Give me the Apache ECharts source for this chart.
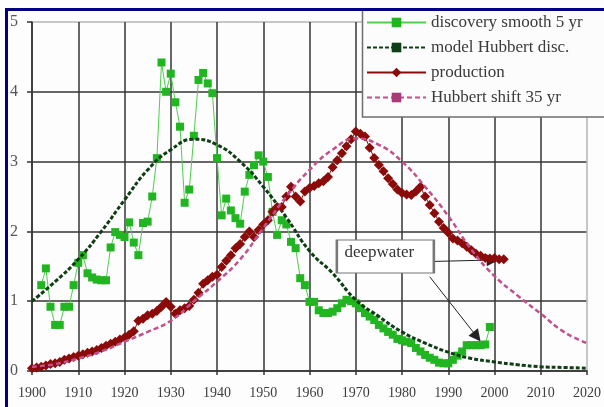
<!DOCTYPE html>
<html><head><meta charset="utf-8">
<script src="https://cdn.jsdelivr.net/npm/echarts@6/dist/echarts.min.js"></script>
<style>html,body{margin:0;padding:0;background:#fff}#c{width:604px;height:407px}</style>
</head><body><div id="c"></div>
<script>
// ---- data ----
const discoveryStartYear = 1902;
const discovery = [1.23,1.47,0.92,0.66,0.66,0.92,0.92,1.23,1.55,1.66,
  1.40,1.34,1.31,1.30,1.30,1.77,1.99,1.95,1.92,2.13,
  1.84,1.66,2.12,2.14,2.50,3.05,4.42,4.00,4.26,3.85,
  3.50,2.41,2.60,3.37,4.17,4.27,4.12,3.98,3.05,2.23,
  2.47,2.30,2.19,2.11,2.57,2.81,2.95,3.09,3.00,2.78,
  2.28,1.95,2.16,2.10,1.85,1.76,1.33,1.23,0.99,0.99,
  0.87,0.83,0.83,0.85,0.90,0.97,1.02,1.00,0.97,0.90,
  0.83,0.78,0.73,0.66,0.61,0.56,0.52,0.46,0.44,0.42,
  0.40,0.33,0.28,0.23,0.19,0.16,0.12,0.11,0.11,0.16,
  0.22,0.28,0.37,0.37,0.37,0.37,0.38,0.63];
const productionStartYear = 1900;
const production = [0.04,0.05,0.06,0.08,0.10,0.11,0.13,0.16,0.18,0.20,
  0.22,0.24,0.26,0.28,0.30,0.33,0.36,0.39,0.42,0.45,
  0.48,0.52,0.57,0.72,0.75,0.80,0.82,0.86,0.92,0.99,
  0.92,0.82,0.87,0.90,0.93,1.02,1.12,1.25,1.30,1.35,
  1.38,1.49,1.58,1.66,1.76,1.82,1.92,2.00,1.92,2.02,
  2.10,2.16,2.28,2.35,2.35,2.50,2.64,2.50,2.43,2.57,
  2.62,2.65,2.69,2.72,2.78,2.92,3.02,3.12,3.22,3.32,
  3.43,3.40,3.36,3.20,3.05,2.95,2.86,2.76,2.68,2.60,
  2.55,2.53,2.52,2.57,2.64,2.50,2.38,2.26,2.14,2.05,
  1.98,1.90,1.87,1.83,1.78,1.73,1.68,1.65,1.62,1.61,
  1.62,1.60,1.60];
const modelYears = [1900,1905,1910,1915,1920,1925,1930,1935,1940,1945,1950,1955,1960,1965,1970,1975,1980,1985,1990,1995,2000,2005,2010,2015,2020];
const modelHubbert = [1.00,1.28,1.60,2.00,2.45,2.88,3.17,3.32,3.24,3.00,2.64,2.20,1.72,1.40,1.02,0.78,0.56,0.40,0.27,0.18,0.13,0.09,0.06,0.05,0.04];
const shiftYears = [1900,1905,1910,1915,1920,1925,1930,1935,1940,1945,1950,1955,1960,1965,1970,1975,1980,1985,1990,1995,2000,2005,2010,2015,2020];
const hubbertShift = [0.06,0.10,0.18,0.28,0.42,0.56,0.72,1.00,1.28,1.60,2.05,2.50,2.88,3.17,3.33,3.24,3.00,2.64,2.22,1.74,1.36,1.08,0.82,0.56,0.40];
const xMin = 1900, xMax = 2020, xStep = 10;
const yMin = 0, yMax = 5, yStep = 1;
// annotation anchors (data space)
const noteLabel = 'deepwater';
const noteCenter = [1976.4, 1.64];
const arrowProduction = [[1986.9, 1.57], [1999.6, 1.59]];
const arrowDiscovery = [[1986.0, 1.35], [1996.2, 0.49]];

const pairs = (start, vals) => vals.map((v, i) => [start + i, v]);
const zip = (xs, vs) => xs.map((x, i) => [x, vs[i]]);

const serif = '"Liberation Serif", "DejaVu Serif", serif';
const dark = '#353535', light = '#b4b4b4';
const xColors = []; for (let v = xMin; v <= xMax; v += xStep) xColors.push(v === xMax ? light : dark);
const yColors = []; for (let v = yMin; v <= yMax; v += yStep) yColors.push(v === yMax ? light : dark);

const chart = echarts.init(document.getElementById('c'), null, {renderer: 'canvas'});
chart.setOption({
  animation: false,
  backgroundColor: '#fcfdfc',
  grid: {left: 32, right: 15, top: 22, bottom: 36},
  xAxis: {
    type: 'value', min: xMin, max: xMax, interval: xStep,
    axisLine: {show: true, lineStyle: {color: dark, width: 1.5}},
    axisTick: {show: true, length: 4, lineStyle: {color: dark, width: 1.5}},
    axisLabel: {margin: 15, fontFamily: serif, fontSize: 14, color: '#3c3c3c', formatter: v => String(v)},
    splitLine: {show: true, lineStyle: {color: xColors, width: 1.5}}
  },
  yAxis: {
    type: 'value', min: yMin, max: yMax, interval: yStep,
    axisLine: {show: true, lineStyle: {color: dark, width: 1.5}},
    axisTick: {show: true, length: 5, lineStyle: {color: dark, width: 1.5}},
    axisLabel: {margin: 14, fontFamily: serif, fontSize: 16, color: '#555'},
    splitLine: {show: true, lineStyle: {color: yColors, width: 1.5}}
  },
  legend: {
    orient: 'vertical', left: 366, top: 14, padding: 0,
    itemWidth: 59, itemHeight: 12, itemGap: 8,
    textStyle: {fontFamily: serif, fontSize: 17, color: '#3a3a3a', lineHeight: 14},
    data: ['discovery smooth 5 yr', 'model Hubbert disc.', 'production', 'Hubbert shift 35 yr']
  },
  graphic: [
    {type: 'rect', z: 3, shape: {x: 362.5, y: 9, width: 260, height: 108}, style: {fill: '#fcfcfc', stroke: '#6e6e6e', lineWidth: 1.5}},
    {type: 'rect', z: 10, shape: {x: 6.5, y: 9.5, width: 700, height: 500}, style: {fill: null, stroke: '#000080', lineWidth: 3}}
  ],
  series: [
    {
      name: 'discovery smooth 5 yr', type: 'line',
      data: pairs(discoveryStartYear, discovery),
      symbol: 'rect', symbolSize: 8, showSymbol: true,
      lineStyle: {color: '#4fce4f', width: 1},
      itemStyle: {color: '#22b522'}, z: 3
    },
    {
      name: 'model Hubbert disc.', type: 'line', smooth: true,
      data: zip(modelYears, modelHubbert),
      symbol: 'rect', symbolSize: 5, showSymbol: false,
      lineStyle: {color: '#0f3d14', width: 3, type: [4, 2]},
      itemStyle: {color: '#0f3d14'}, z: 4
    },
    {
      name: 'production', type: 'line',
      data: pairs(productionStartYear, production),
      symbol: 'diamond', symbolSize: 10, showSymbol: true,
      lineStyle: {color: '#8b0a0a', width: 1},
      itemStyle: {color: '#8b0a0a'}, z: 5
    },
    {
      name: 'Hubbert shift 35 yr', type: 'line', smooth: true,
      data: zip(shiftYears, hubbertShift),
      symbol: 'rect', symbolSize: 5, showSymbol: false,
      lineStyle: {color: '#c2508c', width: 2.5, type: [5, 3]},
      itemStyle: {color: '#a83a78'}, z: 6,
      markPoint: {
        silent: true, symbol: 'rect', symbolSize: [97, 33],
        itemStyle: {color: '#ffffff', borderColor: '#777', borderWidth: 1.5},
        label: {show: true, formatter: noteLabel, fontFamily: serif, fontSize: 17, color: '#333', offset: [-6, -4]},
        data: [{coord: noteCenter}]
      }
    },
    {
      name: 'annotation arrows', type: 'line', data: [], z: 12, zlevel: 1, silent: true,
      markLine: {
        silent: true, symbol: ['none', 'triangle'], symbolSize: 12,
        label: {show: false},
        itemStyle: {color: '#000'},
        lineStyle: {color: '#222', width: 1, type: 'solid'},
        data: [
          [{coord: arrowProduction[0]}, {coord: arrowProduction[1]}],
          [{coord: arrowDiscovery[0]}, {coord: arrowDiscovery[1]}]
        ]
      }
    }
  ]
});
</script></body></html>
